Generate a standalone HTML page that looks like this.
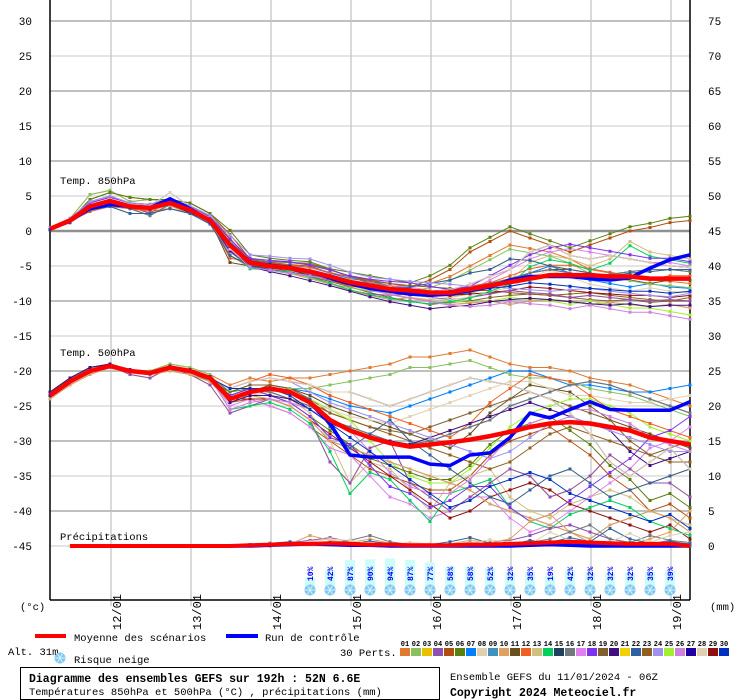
<!DOCTYPE html>
<html><head><meta charset="utf-8">
<style>
body{margin:0;background:#fff;width:740px;height:700px;overflow:hidden;font-family:"Liberation Mono",monospace;}
svg{display:block}
text{font-family:"Liberation Mono",monospace;}
</style></head>
<body>
<svg id="chart" width="740" height="700" xmlns="http://www.w3.org/2000/svg">
<g id="grid"></g>
<g id="axes"></g>
<g id="snow"></g>
<g id="series"></g>
<g id="legend"></g>
</svg>
<script>
const dateLabels=["12/01","13/01","14/01","15/01","16/01","17/01","18/01","19/01"];
const leftTicks=[30,25,20,15,10,5,0,-5,-10,-15,-20,-25,-30,-35,-40,-45];
const rightTicks=[75,70,65,60,55,50,45,40,35,30,25,20,15,10,5,0];
const memberColors=["#e07a30","#8ac060","#e8c000","#9050b0","#b05010","#5a8010","#0080ff","#e0d0b0","#4090c0","#e0a060","#6a5020","#f06020","#d0c080","#00d060","#204060","#707880","#e080f0","#8030f0","#806030","#401080","#f0d000","#3060a0","#906020","#a090f0","#a0f030","#d080e0","#2000a0","#e0d0b0","#901010","#0030c0"];
const snowPct=[10,42,87,90,94,87,77,58,58,52,32,35,19,42,32,32,32,35,39];
const mean850=[0.3,1.5,3.5,4.3,3.5,3.3,4.0,3.0,1.5,-2,-4.5,-5,-5.3,-5.8,-6.5,-7.3,-7.8,-8.3,-8.5,-8.8,-8.8,-8.3,-7.8,-7.3,-6.8,-6.3,-6.3,-6.3,-6.5,-6.5,-6.8,-6.8,-6.8];
const ctrl850=[0.3,1.5,3.2,3.8,3.5,3.3,4.6,3.2,1.5,-2,-4.6,-5,-5.3,-5.8,-6.7,-7.5,-8.2,-8.6,-9,-9.2,-9,-8.5,-8,-7,-6.5,-6.5,-6.5,-6.8,-7,-6.7,-5.3,-4.1,-3.4];
const mean500=[-23.5,-21.5,-20,-19.3,-20,-20.3,-19.5,-20,-21,-24,-23,-22.5,-23,-24.5,-27,-28.5,-29.5,-30.3,-30.8,-30.5,-30.2,-29.8,-29.3,-28.7,-28,-27.5,-27.3,-27.5,-28,-28.5,-29.5,-30,-30.5];
const ctrl500=[-23.5,-21.5,-20,-19.3,-20,-20.3,-19.5,-20,-21,-24,-23,-22.5,-23,-24.5,-27.5,-32,-32.3,-32.3,-32.3,-33.3,-33.5,-32,-31.7,-29.5,-26,-26.7,-25.5,-24.4,-25.5,-25.6,-25.6,-25.6,-24.4];
const meanPrecip=[0,0,0,0,0,0,0,0,0,0,0.1,0.2,0.3,0.3,0.4,0.3,0.2,0.2,0.1,0.1,0.1,0.2,0.2,0.3,0.4,0.5,0.6,0.5,0.4,0.3,0.3,0.3,0];
const ctrlPrecip=[0,0,0,0,0,0,0,0,0,0,0,0.1,0.2,0.3,0.2,0.1,0.1,0,0,0,0,0,0,0,0.1,0.2,0.1,0,0,0,0,0,0];
const members850=[
[0.5,1.8,5.2,5.8,4.2,4.5,4.2,3.5,2.2,-1,-4.5,-5.0,-5.5,-6.2,-7,-7.5,-8,-8.2,-8,-7.5,-6.5,-5,-3.5,-2,-2.5,-3,-4,-5.5,-6,-6.5,-7,-7.2,-7.5],
[0.2,1.2,3,4,3.5,2.5,4.5,3,1,-3,-5,-5.5,-6,-6.5,-7.5,-8.5,-9,-9.2,-9,-9.5,-9.8,-9.5,-9,-8.5,-8.8,-9,-9.5,-9.2,-9.5,-9.8,-10,-9.8,-10],
[0.3,1.5,4.5,5.5,4.8,4.5,4.5,4,2.5,-0.5,-4,-4.5,-4.8,-5,-6,-6.5,-7,-7.5,-8,-7,-5.5,-3,-1.5,0,-1,-2,-3,-2,-1,0,0.5,1.2,1.5],
[0.4,1.6,3.8,4.5,3.8,3.6,5.5,3.5,1.8,-1.5,-4.2,-4.6,-5,-5.2,-6,-6.8,-7.2,-7.8,-8.2,-9,-9.3,-8.8,-8,-7.5,-6,-5,-6,-7,-7.5,-8,-7.5,-8,-8.2],
[0.2,1.3,3.2,4.2,3.2,3.0,3.6,2.5,1.2,-3.5,-5.2,-5.5,-6,-6.8,-7.5,-8.5,-9.2,-9.8,-9.5,-10,-10.5,-10.3,-10,-10.5,-10,-9.8,-10,-10.5,-10.2,-10.5,-10.8,-10.5,-11],
[0.3,1.4,2.8,3.5,3.2,2.8,3.2,2.5,1.5,-4.5,-5,-5.2,-5.5,-5.8,-6.5,-7.2,-8,-8.5,-9,-9.2,-9,-8.5,-8,-7,-6,-5.5,-5.5,-6,-6.5,-7,-7.5,-7,-7],
[0.3,1.6,3.6,4.4,3.6,3.4,4.2,3.2,1.6,-2.2,-4.8,-4.9,-5.2,-6,-6.8,-7.8,-8.5,-9,-9.5,-9.8,-9.5,-9,-8,-7,-4.5,-3.5,-4,-5,-4,-1.5,-3,-3.5,-4],
[0.2,1.2,3.2,3.8,3.2,2.2,3.8,2.8,1.2,-2.5,-4.2,-4.4,-4.5,-4.8,-5.5,-6.5,-7.5,-8,-8.5,-8.8,-8.5,-8,-7.5,-6.8,-6,-5.5,-6,-6.5,-6.2,-5.8,-5.5,-5.5,-5.8],
[0.4,1.7,4,4.8,4,3.8,4.6,3.6,2,-1.8,-4.5,-4.8,-5,-5.5,-6.2,-7,-7.5,-7.8,-8,-8.5,-9,-8.5,-7,-5.5,-4,-3,-2.5,-3,-3.5,-4,-4.5,-4.5,-5],
[0.3,1.4,3.4,4.2,3.4,3.2,3.8,2.6,1.4,-2.2,-4.5,-5.2,-5.8,-6.5,-7.2,-8,-8.8,-9.5,-10,-10.5,-10.2,-10,-9.5,-9.2,-9,-9.2,-9.5,-9.8,-10,-9.8,-10.2,-10,-10],
[0.2,1.2,3,3.5,2.5,2.5,3.2,2.5,1,-3.5,-5,-5.5,-6,-6.2,-6.8,-7.5,-8,-8.5,-8,-7.5,-7,-6,-5.5,-4,-4.2,-5,-5.5,-6,-6.5,-6,-5.8,-5.5,-5.5],
[0.5,1.8,4.2,5,4,3.8,4.4,3.6,2.2,-1.2,-4,-4.2,-4.5,-4.6,-5.5,-6.5,-7.2,-7.5,-7.8,-8,-8.2,-8.5,-8.5,-8.8,-9,-9.2,-9,-8.8,-9.2,-9.5,-9.8,-10,-9.5],
[0.3,1.5,3.5,4.2,3.4,3.3,3.8,3,1.6,-2,-4.6,-5,-5.4,-5.8,-6.3,-7,-7.8,-8.5,-9,-9.5,-10,-10.2,-10,-9.5,-9.8,-10,-10.5,-10,-10.5,-11,-11,-11.5,-12],
[0.3,1.5,3.6,4.5,3.6,3.5,4.1,3.1,1.5,-2.5,-4.7,-5.1,-5.3,-5.6,-6.4,-7.2,-7.6,-8,-8.4,-8.6,-8.4,-7.6,-6.5,-5.5,-3,-2,-3.5,-4,-3.5,-4,-4.5,-5,-5.2],
[0.2,1.3,3.3,4.1,3.3,3.1,3.9,2.9,1.3,-2.8,-4.9,-5.3,-5.6,-6.3,-7,-7.8,-8.3,-8.8,-9.2,-9.3,-9.2,-9,-8.8,-8.5,-8,-8.2,-8.5,-8.8,-9,-9.2,-9.2,-9.5,-9.2]
];
const members500=[
[-23,-21,-19.5,-19,-19.8,-20,-19,-19.5,-20.5,-22,-21,-21.5,-21,-21,-20.5,-20,-19.5,-19,-18,-18,-17.5,-17,-18,-19,-19.5,-19.5,-20,-21,-21.5,-22,-23,-24,-25],
[-23.5,-21.5,-20,-19.3,-20.5,-21,-19.5,-20.5,-22,-26,-25,-24,-25,-27,-33,-36,-31,-30,-36,-38,-40,-38,-36,-34,-35,-38,-37,-35,-32,-34,-36,-36,-38],
[-23,-21,-19.5,-19,-20,-20.5,-19.8,-20.2,-21.5,-24.5,-24,-25,-26,-28,-30,-32,-34,-35,-36,-37,-37,-35,-32,-30,-29,-28,-30,-32,-35,-37,-40,-39,-41],
[-23.5,-21.5,-20,-19.3,-20,-20.3,-19.5,-20,-21,-23,-22,-22,-22.5,-23,-24,-25,-25.5,-26,-25,-24,-23,-22,-21,-20,-20,-21,-22,-22,-22.5,-23,-23,-22.5,-22],
[-24,-22,-20.5,-19.5,-20,-20.5,-20,-20.5,-21.5,-24.5,-23.5,-24,-25,-27,-30,-31,-32,-33,-34,-35,-36,-37,-39,-40,-41,-42,-43,-44,-42,-41,-40,-41,-43],
[-23.5,-21.5,-20,-19.3,-20,-20.3,-19.5,-20,-21,-24,-23,-22,-22.5,-23.5,-25,-26,-27,-28,-29,-30,-31,-29,-26,-24,-22,-22.5,-23,-25,-27,-28,-29,-30,-31],
[-23,-21.2,-19.8,-19.2,-20,-20.5,-19.5,-20,-21,-24,-23.5,-23,-24,-26,-30,-36,-33,-34,-37,-40,-36,-35,-34,-38,-40,-41,-39,-38,-37,-38,-40,-41,-42],
[-23.5,-21.5,-20,-19.3,-19.8,-20.2,-19.5,-20,-21,-23.5,-22.5,-23,-24,-25,-27,-28,-29,-30,-30.5,-30,-29,-28,-27,-25,-24,-23,-22,-21.5,-22,-23,-24,-25,-26],
[-23.5,-21.5,-20,-19.3,-20,-20.3,-19.5,-20,-21,-25,-24,-25,-26,-28,-31,-32,-35,-38,-39,-41,-40,-38,-38,-41,-43,-42,-40,-38,-36,-34,-31,-30,-28],
[-23,-21,-19.5,-19,-19.8,-20.2,-19.3,-19.8,-20.8,-23,-22,-22,-22.5,-24,-26,-27,-28,-28.5,-29,-28,-27,-26,-25,-24,-23,-24,-25,-26,-27,-30,-32,-31,-30],
[-23.5,-21.5,-20,-19.3,-20,-20.3,-19.5,-20,-21,-24,-23,-22.5,-23,-24,-28,-31,-29,-27,-30,-32,-34,-36,-38,-39,-37,-35,-34,-36,-38,-37,-36,-35,-34],
[-23.5,-21.5,-20,-19.3,-20,-20.3,-19.5,-20,-21,-24,-23,-22.5,-23,-24.5,-26,-27,-28,-29,-30,-31,-32,-33,-34,-33,-31,-29,-28,-29,-30,-31,-32,-33,-33],
[-23.5,-21.5,-20,-19.3,-20,-20.3,-19.5,-20,-21,-24,-23,-22.5,-23,-24,-25.5,-27,-30,-33,-35,-36,-36,-34,-31,-28,-26,-25,-24,-24,-25,-26,-28,-29,-30],
[-23.5,-21.5,-20,-19.3,-20,-20.3,-19.5,-20,-21,-22.5,-21.5,-21,-21.5,-22,-23,-23,-24,-25,-24,-23,-22,-21,-21.5,-22,-23,-24,-26,-29,-33,-35,-33,-31,-34],
[-23.5,-21.5,-20,-19.3,-20,-20.3,-19.5,-20,-21,-24,-24,-24,-25,-27,-29,-31,-33,-35,-37,-39,-41,-40,-38,-37,-36,-37,-39,-40,-41,-42,-43,-42,-44]
];
const membersPrecip=[
[0,0,0,0,0,0,0,0,0,0,0,0.2,0.5,0.8,1.2,0.6,0.3,0.2,0,0,0,0.2,0.5,0.8,1.5,2.5,3,2,1,0.5,0.3,0.8,0],
[0,0,0,0,0,0,0,0,0,0,0,0.1,0.3,1.5,0.8,0.5,1,0.4,0.2,0.1,0.3,0.8,0.5,1,3.5,4.5,2,0.5,0.3,0.2,1,2,5],
[0,0,0,0,0,0,0,0,0,0,0,0,0.2,0.5,0.3,0.8,1.5,0.6,0.2,0,0.2,0.5,0.3,0.3,0.5,1,2,3,1,0.5,1.5,0.8,0.5],
[0,0,0,0,0,0,0,0,0,0,0.2,0.4,0.6,0.3,0.5,0.4,0.7,0.3,0.1,0.2,0.6,1.2,0.4,0.2,0.8,0.5,1.2,0.6,2.5,1,0.4,0.6,0.3],
[0,0,0,0,0,0,0,0,0,0,0,0.3,0.2,0.6,1,0.8,0.4,0.2,0.5,0.3,0.1,0.4,0.9,0.5,0.3,2,0.8,0.4,0.6,1.8,0.5,1.5,2]
];

const NS="http://www.w3.org/2000/svg";
const X0=50,X1=690,Y0=231,PY=7;
function xAt(i){return X0+i*20;}
function yT(v){return Y0-v*PY;}
function yP(v){return 546-v*PY;}
function mk(tag,attrs,parent){const e=document.createElementNS(NS,tag);for(const k in attrs)e.setAttribute(k,attrs[k]);parent.appendChild(e);return e;}
const grid=document.getElementById('grid'),axes=document.getElementById('axes'),series=document.getElementById('series'),snow=document.getElementById('snow'),legend=document.getElementById('legend');

mk('rect',{x:X0,y:0,width:X1-X0,height:600,fill:'#fff'},grid);
dateLabels.forEach((d,k)=>{
  const x=111+k*80;
  const l=mk('line',{x1:x,y1:0,x2:x,y2:606,stroke:'#c0c0c0','stroke-width':1.2},grid);
  
  
  const t=mk('text',{x:0,y:0,transform:`translate(${x+10},630) rotate(-90)`,'font-size':12,fill:'#000'},axes);
  t.textContent=d;
  
  
});
leftTicks.forEach((v,k)=>{
  const y=yT(v);
  let sw=1,col='#c8c8c8';
  if(v===0){sw=2.5;col='#909090';}else if(v%10===0){sw=2;col='#c0c0c0';}
  const l=mk('line',{x1:X0,y1:y,x2:X1,y2:y,stroke:col,'stroke-width':sw},grid);
  
  
  const t=mk('text',{x:32,y:y+4,'text-anchor':'end','font-size':11,fill:'#000'},axes);
  t.textContent=v;
  
  
  const t2=mk('text',{x:708,y:y+4,'font-size':11,fill:'#000'},axes);
  t2.textContent=rightTicks[k];
  
  
});
mk('line',{x1:X0,y1:0,x2:X0,y2:600,stroke:'#000','stroke-width':1.5},axes);
mk('line',{x1:X1,y1:0,x2:X1,y2:600,stroke:'#000','stroke-width':1.5},axes);
mk('line',{x1:X0,y1:600,x2:X1,y2:600,stroke:'#000','stroke-width':1.5},axes);
[["Temp. 850hPa",60,184],["Temp. 500hPa",60,356],["Précipitations",60,540]].forEach(a=>{
  const t=mk('text',{x:a[1],y:a[2],'font-size':10.5,fill:'#000'},axes);t.textContent=a[0];
  
  
});
[["(°c)",20,610],["(mm)",710,610],["Alt. 31m",8,655]].forEach(a=>{
  const t=mk('text',{x:a[1],y:a[2],'font-size':10.5,fill:'#000'},axes);t.textContent=a[0];
  
  
});

// snow row
function snowIcon(cx,cy,parent){
  mk('circle',{cx:cx,cy:cy,r:5.5,fill:'#7ec8f0'},parent);
  for(let a=0;a<3;a++){const ang=a*Math.PI/3;mk('line',{x1:cx-5*Math.cos(ang),y1:cy-5*Math.sin(ang),x2:cx+5*Math.cos(ang),y2:cy+5*Math.sin(ang),stroke:'#d8f0ff','stroke-width':1},parent);}
}
snowPct.forEach((p,k)=>{
  const x=310+k*20;
  const h=8+p*0.23;
  const b=mk('rect',{x:x-5,y:588-h,width:10,height:h,fill:'#ccfcfc'},snow);
  
  
  const g=mk('g',{},snow);
  
  
  snowIcon(x,590,g);
  const t=mk('text',{x:0,y:0,transform:`translate(${x+3},581) rotate(-90)`,'font-size':8,'font-weight':'bold',fill:'#0000ff'},snow);
  t.textContent=p+'%';
  
  
});

function line(vals,yf,color,w,marks,name,start){
  start=start||0;
  const pts=vals.map((v,i)=>[xAt(i),yf(v)]).slice(start);
  const pl=mk('polyline',{points:pts.map(p=>p.join(',')).join(' '),fill:'none',stroke:color,'stroke-width':w,'stroke-linejoin':'round'},series);
  
  
  if(marks)pts.forEach(p=>mk('rect',{x:p[0]-1.5,y:p[1]-1.5,width:3,height:3,fill:color},series));
}
members850.forEach((m,k)=>line(m,yT,memberColors[(k*2)%30],1,true,'member-850-line'));
members850.forEach((m,k)=>line(m.map((v,i)=>i>8?v+(k%3-1)*0.6:v),yT,memberColors[(k*2+1)%30],1,true,'member-850-line'));
members500.forEach((m,k)=>line(m,yT,memberColors[(k*2)%30],1,true,'member-500-line'));
members500.forEach((m,k)=>line(m.map((v,i)=>i>8?v+(k%3-1)*1.5:v),yT,memberColors[(k*2+1)%30],1,true,'member-500-line'));
membersPrecip.forEach((m,k)=>line(m,yP,memberColors[(k*6+3)%30],1,true,'member-precip-line',1));
line(ctrl850,yT,'#0000ff',3.5,false,'control-850-line');
line(ctrl500,yT,'#0000ff',3.5,false,'control-500-line');
line(ctrlPrecip,yP,'#0000ff',3.5,false,'control-precip-line',1);
line(mean850,yT,'#ff0000',4.5,false,'mean-850-line');
line(mean500,yT,'#ff0000',4.5,false,'mean-500-line');
line(meanPrecip,yP,'#ff0000',4,false,'mean-precip-line',1);

// legend
mk('rect',{x:35,y:634,width:31,height:4,fill:'#ff0000'},legend);
let t=mk('text',{x:74,y:641,'font-size':10.5},legend);t.textContent='Moyenne des scénarios';
mk('rect',{x:226,y:634,width:32,height:4,fill:'#0000ff'},legend);
t=mk('text',{x:265,y:641,'font-size':10.5},legend);t.textContent='Run de contrôle';
const lg=mk('g',{},legend);snowIcon(60,658,lg);
t=mk('text',{x:74,y:663,'font-size':10.5},legend);t.textContent='Risque neige';
t=mk('text',{x:340,y:656,'font-size':10.5},legend);t.textContent='30 Perts.';
memberColors.forEach((c,k)=>{
  const x=400+k*11;
  const r=mk('rect',{x:x,y:648,width:10,height:8,fill:c},legend);
  
  
  const n=mk('text',{x:x+5,y:646,'font-size':7,'font-weight':'bold','text-anchor':'middle'},legend);
  n.textContent=String(k+1).padStart(2,'0');
});
const box=mk('rect',{x:20.5,y:667.5,width:419,height:32,fill:'#fff',stroke:'#000','stroke-width':1},legend);

t=mk('text',{x:29,y:682,'font-size':11.5,'font-weight':'bold'},legend);t.textContent='Diagramme des ensembles GEFS sur 192h : 52N 6.6E';
t=mk('text',{x:29,y:695,'font-size':10.5},legend);t.textContent='Températures 850hPa et 500hPa (°C) , précipitations (mm)';
t=mk('text',{x:450,y:680,'font-size':10.5},legend);t.textContent='Ensemble GEFS du 11/01/2024 - 06Z';
t=mk('text',{x:450,y:696,'font-size':11.5,'font-weight':'bold'},legend);t.textContent='Copyright 2024 Meteociel.fr';
</script>
</body></html>
